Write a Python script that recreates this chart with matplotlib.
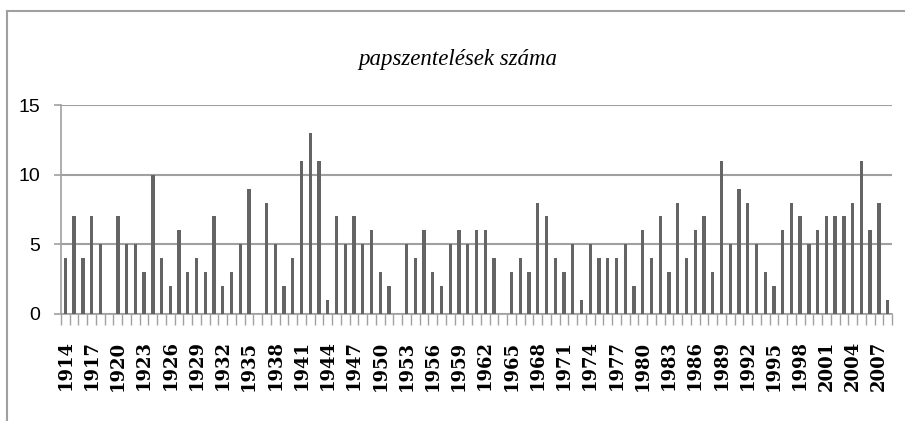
import numpy as np
import matplotlib.pyplot as plt
from matplotlib.lines import Line2D

years = list(range(1914, 2009))
counts = [4, 7, 4, 7, 5, 0, 7, 5, 5, 3,   # 1914-1923
          10, 4, 2, 6, 3, 4, 3, 7, 2, 3,  # 1924-1933
          5, 9, 0, 8, 5, 2, 4, 11, 13, 11,  # 1934-1943
          1, 7, 5, 7, 5, 6, 3, 2, 0, 5,   # 1944-1953
          4, 6, 3, 2, 5, 6, 5, 6, 6, 4,   # 1954-1963
          0, 3, 4, 3, 8, 7, 4, 3, 5, 1,   # 1964-1973
          5, 4, 4, 4, 5, 2, 6, 4, 7, 3,   # 1974-1983
          8, 4, 6, 7, 3, 11, 5, 9, 8, 5,  # 1984-1993
          3, 2, 6, 8, 7, 5, 6, 7, 7, 7,   # 1994-2003
          8, 11, 6, 8, 1]                 # 2004-2008
title = "papszentelések száma"
yticks = [0, 5, 10, 15]

W, H = 905, 421
fig = plt.figure(figsize=(W / 100, H / 100), dpi=100)
ax = fig.add_axes([61 / W, 1 - 314 / H, (892 - 61) / W, (314 - 105) / H])

grey = "#a0a0a0"
x = np.arange(len(years))
ax.bar(x, counts, width=0.38, color="#646464", zorder=3)

ax.set_xlim(-0.5, len(years) - 0.5)
ax.set_ylim(0, 15)
ax.set_yticks(yticks)
ax.set_yticklabels([str(v) for v in yticks], family="Liberation Sans", fontsize=14)
ax.yaxis.grid(True, color=grey, linewidth=1.5, zorder=1)
ax.tick_params(axis="y", length=5, width=1.2, color=grey, pad=10)

ax.set_xticks(x[::3])
ax.set_xticklabels([str(y) for y in years[::3]], rotation=90,
                   family="DejaVu Serif", fontweight="bold", fontsize=13)
ax.set_xticks(np.arange(-0.5, len(years)), minor=True)
ax.tick_params(axis="x", which="major", length=0, pad=19)
ax.tick_params(axis="x", which="minor", length=8, width=1, color=grey)

for s in ["top", "right"]:
    ax.spines[s].set_visible(False)
for s in ["left", "bottom"]:
    ax.spines[s].set_color(grey)
    ax.spines[s].set_linewidth(1.2)

fig.text(458 / W, 1 - 59 / H, title, ha="center", va="center",
         family="Liberation Serif", style="italic", fontsize=16.5)

# outer chart frame (top and left edges visible)
fig.add_artist(Line2D([7 / W, 1], [1 - 11 / H, 1 - 11 / H], color=grey, linewidth=1.5))
fig.add_artist(Line2D([7 / W, 7 / W], [0, 1 - 11 / H], color=grey, linewidth=1.5))

fig.savefig("out.png", dpi=100)
